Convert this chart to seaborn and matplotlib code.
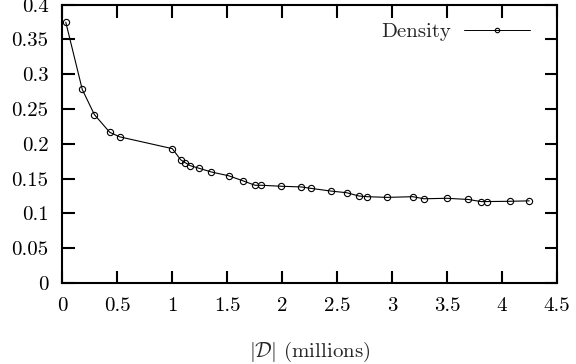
import pandas as pd
import matplotlib
matplotlib.use("Agg")
import matplotlib.pyplot as plt
import seaborn as sns

# Data
size_millions = [0.03, 0.18, 0.29, 0.43, 0.52, 1.0, 1.076, 1.116, 1.164, 1.24,
                 1.355, 1.514, 1.64, 1.753, 1.81, 1.99, 2.175, 2.26, 2.448, 2.588,
                 2.698, 2.773, 2.958, 3.19, 3.29, 3.5, 3.696, 3.81, 3.866, 4.076, 4.25]
density = [0.3746, 0.278, 0.242, 0.2165, 0.21, 0.193, 0.177, 0.173, 0.1685, 0.165,
           0.1595, 0.154, 0.147, 0.1404, 0.1404, 0.139, 0.138, 0.136, 0.132, 0.1297,
           0.125, 0.124, 0.123, 0.124, 0.121, 0.1217, 0.120, 0.117, 0.117, 0.1174, 0.118]

x_ticks = [0, 0.5, 1, 1.5, 2, 2.5, 3, 3.5, 4, 4.5]
y_ticks = [0, 0.05, 0.1, 0.15, 0.2, 0.25, 0.3, 0.35, 0.4]

df = pd.DataFrame({'size': size_millions, 'density': density})

sns.set_style('ticks')
plt.rcParams['font.family'] = ['cmr10', 'DejaVu Serif']
plt.rcParams['mathtext.fontset'] = 'cm'
plt.rcParams['axes.formatter.use_mathtext'] = True

fig = plt.figure(figsize=(5.76, 3.64), dpi=100)
ax = fig.add_axes([0.1085, 0.2225, 0.858, 0.765])

sns.lineplot(x='size', y='density', data=df, ax=ax, color='black', linewidth=0.8,
             marker='o', markersize=4.5, markerfacecolor='none',
             markeredgecolor='black', markeredgewidth=0.8, label='Density')

ax.set_xlim(0, 4.5)
ax.set_ylim(0, 0.4)
ax.set_xticks(x_ticks)
ax.set_yticks(y_ticks)
ax.set_xticklabels([f'{t:g}' for t in x_ticks])
ax.set_yticklabels([f'{t:g}' for t in y_ticks])
ax.tick_params(direction='in', length=9, width=1.5, top=True, right=True,
               labelsize=15, colors='black')
ax.tick_params(axis='y', pad=10)
ax.tick_params(axis='x', pad=10)
for s in ax.spines.values():
    s.set_linewidth(1.5)
    s.set_color('black')

ax.set_xlabel(r'$|\mathcal{D}|$ (millions)', fontsize=15, labelpad=18)
ax.set_ylabel('')

leg = ax.legend(loc='upper right', bbox_to_anchor=(0.9636, 0.964), frameon=False,
                markerfirst=False, handlelength=3.2, handletextpad=0.6, fontsize=15,
                borderaxespad=0, borderpad=0.4)
for h in leg.legend_handles:
    h.set_markersize(3.2)
    h.set_linewidth(0.7)

fig.savefig('out.png', dpi=100)
